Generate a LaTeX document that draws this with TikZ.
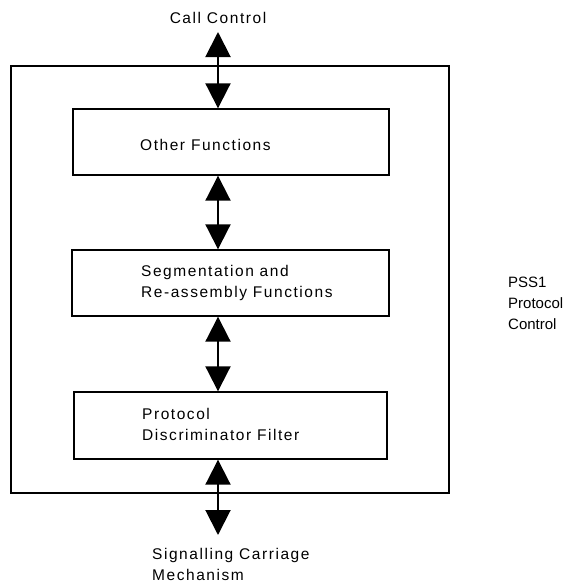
\documentclass[tikz,border=0pt]{standalone}
\usepackage{fontspec}
\setmainfont{Liberation Sans}
\newfontfamily\spaced[LetterSpace=10]{Liberation Sans}
\usetikzlibrary{arrows.meta}
\begin{document}
\begin{tikzpicture}[x=1pt,y=-1pt,
  box/.style={draw,line width=1.4pt,inner sep=0pt},
  lbl/.style={anchor=west,inner sep=0pt,font=\spaced\fontsize{15.5}{21}\selectfont,align=left},
  rlbl/.style={anchor=west,inner sep=0pt,font=\fontsize{15}{21}\selectfont,align=left},
  dbl/.style={line width=2pt,{Triangle[length=25pt,width=25pt]}-{Triangle[length=25pt,width=25pt]}}]
\useasboundingbox (0,0) rectangle (566,582);
\node[box,minimum width=438pt,minimum height=427pt,line width=1.5pt] (frame) at (230,279.5) {};
\node[box,minimum width=316pt,minimum height=66pt] (b1) at (231,142) {};
\node[box,minimum width=317pt,minimum height=66pt] (b2) at (230.5,283) {};
\node[box,minimum width=313pt,minimum height=67pt] (b3) at (230.5,425.5) {};
\node[lbl] (t1) at (140,145) {Other Functions};
\node[lbl] (t2) at (141,282.5) {Segmentation and\\Re-assembly Functions};
\node[lbl] (t3) at (142,424) {Protocol\\Discriminator Filter};
\node[lbl,anchor=center] (cc) at (218,18) {Call Control};
\node[lbl] (scm) at (152,564) {Signalling Carriage\\Mechanism};
\node[rlbl] (pss) at (508,303) {PSS1\\Protocol\\Control};
\coordinate (top) at (218,32);
\coordinate (bot) at (218,535);
\draw[dbl] (top) -- (top |- b1.north);
\draw[dbl] (top |- b1.south) -- (top |- b2.north);
\draw[dbl] (top |- b2.south) -- (top |- b3.north);
\draw[dbl] (top |- b3.south) -- (bot);
\end{tikzpicture}
\end{document}
